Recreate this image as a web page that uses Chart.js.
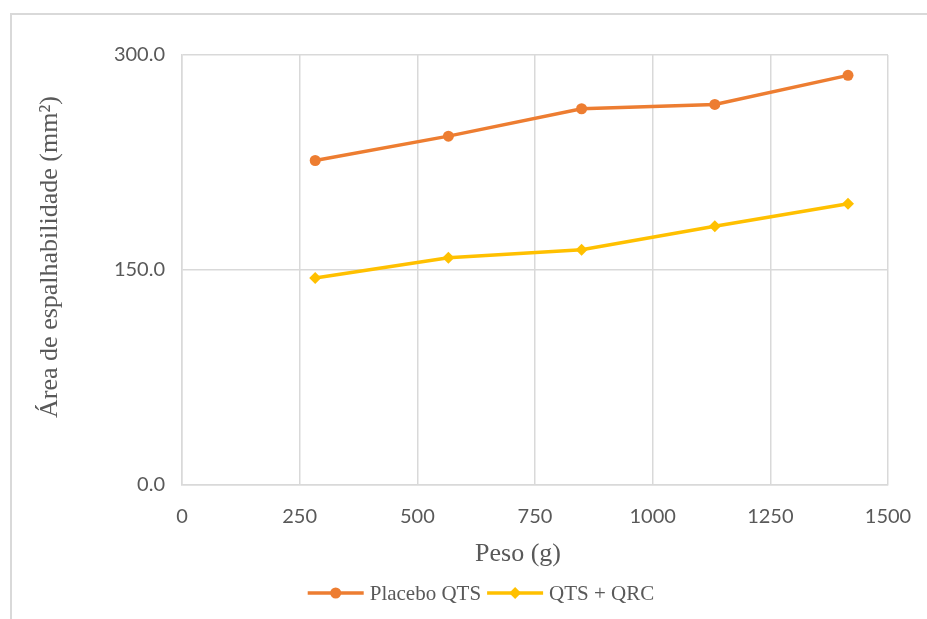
<!DOCTYPE html>
<html lang="pt">
<head>
<meta charset="UTF-8">
<title>Área de espalhabilidade</title>
<style>
  html, body { margin: 0; padding: 0; background: #fff; }
  canvas { display: block; }
</style>
</head>
<body>
<canvas id="grafico" width="927" height="619"></canvas>

<script src="https://cdn.jsdelivr.net/npm/chart.js"></script>
<script>
// pesos aplicados (g)
const pesos = [283, 566, 849, 1132, 1415];
// área de espalhabilidade (mm²) por formulação
const placeboQTS = [226.4, 243.4, 262.5, 265.5, 285.8];
const qtsQRC = [144.4, 158.6, 164.2, 180.5, 196.2];

const nomes = ['Placebo QTS', 'QTS + QRC'];
const cores = ['#ED7D31', '#FFC000'];
const marcadores = ['circle', 'rectRot'];

const tituloX = 'Peso (g)';
const tituloY = 'Área de espalhabilidade (mm²)';

const cinzaTexto = '#595959';
const cinzaGrade = '#d9d9d9';
const fonteSerif = '"Liberation Serif", "Times New Roman", serif';

function pontos(ys) {
    return pesos.map((x, i) => ({ x: x, y: ys[i] }));
}

// moldura, títulos dos eixos e legenda desenhados à mão
const extras = {
    id: 'extras',
    beforeDraw(chart) {
        const ctx = chart.ctx;
        ctx.save();
        ctx.strokeStyle = cinzaGrade;
        ctx.lineWidth = 2;
        ctx.strokeRect(11, 14, 1000, 700);
        ctx.restore();
    },
    afterDraw(chart) {
        const ctx = chart.ctx;
        ctx.save();
        ctx.fillStyle = cinzaTexto;

        // título do eixo x
        ctx.font = '26px ' + fonteSerif;
        ctx.textAlign = 'center';
        ctx.textBaseline = 'alphabetic';
        ctx.fillText(tituloX, 518, 561);

        // título do eixo y
        ctx.save();
        ctx.translate(57, 257);
        ctx.rotate(-Math.PI / 2);
        ctx.fillText(tituloY, 0, 0);
        ctx.restore();

        // legenda: traço com marcador e nome da série
        ctx.font = '21px ' + fonteSerif;
        const amostra = 56, folga = 6;
        const larguras = nomes.map(n => ctx.measureText(n).width);
        let total = 0;
        larguras.forEach((w, i) => { total += amostra + folga + w + (i < nomes.length - 1 ? folga : 0); });
        let x = 481 - total / 2;
        const y = 593;
        ctx.textAlign = 'left';
        ctx.textBaseline = 'middle';
        chart.data.datasets.forEach((ds, i) => {
            const cx = x + amostra / 2;
            ctx.strokeStyle = ds.borderColor;
            ctx.lineWidth = 3.5;
            ctx.beginPath();
            ctx.moveTo(x, y);
            ctx.lineTo(x + amostra, y);
            ctx.stroke();
            ctx.fillStyle = ds.borderColor;
            ctx.beginPath();
            if (ds.pointStyle === 'circle') {
                ctx.arc(cx, y, 5.5, 0, Math.PI * 2);
            } else {
                ctx.moveTo(cx, y - 6);
                ctx.lineTo(cx + 6, y);
                ctx.lineTo(cx, y + 6);
                ctx.lineTo(cx - 6, y);
                ctx.closePath();
            }
            ctx.fill();
            ctx.fillStyle = cinzaTexto;
            ctx.fillText(nomes[i], x + amostra + folga, y + 1);
            x += amostra + folga + larguras[i] + folga;
        });
        ctx.restore();
    }
};

const ctx = document.getElementById('grafico').getContext('2d');
const grafico = new Chart(ctx, {
    type: 'line',
    data: {
        datasets: [placeboQTS, qtsQRC].map((serie, i) => ({
            label: nomes[i],
            data: pontos(serie),
            borderColor: cores[i],
            backgroundColor: cores[i],
            borderWidth: 3.5,
            pointStyle: marcadores[i],
            pointRadius: i === 0 ? 5.5 : 6,
            pointBorderWidth: 0,
            pointHoverRadius: 6,
            tension: 0
        }))
    },
    options: {
        responsive: false,
        animation: false,
        devicePixelRatio: 1,
        layout: { padding: { left: 0, top: 55, right: 39, bottom: 0 } },
        plugins: {
            legend: { display: false },
            tooltip: { enabled: false }
        },
        scales: {
            x: {
                type: 'linear',
                min: 0,
                max: 1500,
                afterFit(scale) {
                    scale.height = 134;
                    scale.paddingLeft = 0;
                    scale.paddingRight = 0;
                },
                ticks: {
                    stepSize: 250,
                    padding: 20,
                    color: cinzaTexto,
                    font: { family: 'Lato', size: 20 },
                    callback: v => String(v)
                },
                grid: { color: cinzaGrade, lineWidth: 1.5, drawTicks: false },
                border: { color: cinzaGrade, width: 1.5 }
            },
            y: {
                min: 0,
                max: 300,
                afterFit(scale) { scale.width = 182; },
                ticks: {
                    stepSize: 150,
                    padding: 17,
                    color: cinzaTexto,
                    font: { family: 'Lato', size: 20 },
                    callback: v => v.toFixed(1)
                },
                grid: { color: cinzaGrade, lineWidth: 1.5, drawTicks: false },
                border: { color: cinzaGrade, width: 1.5 }
            }
        }
    },
    plugins: [extras]
});
</script>
</body>
</html>
